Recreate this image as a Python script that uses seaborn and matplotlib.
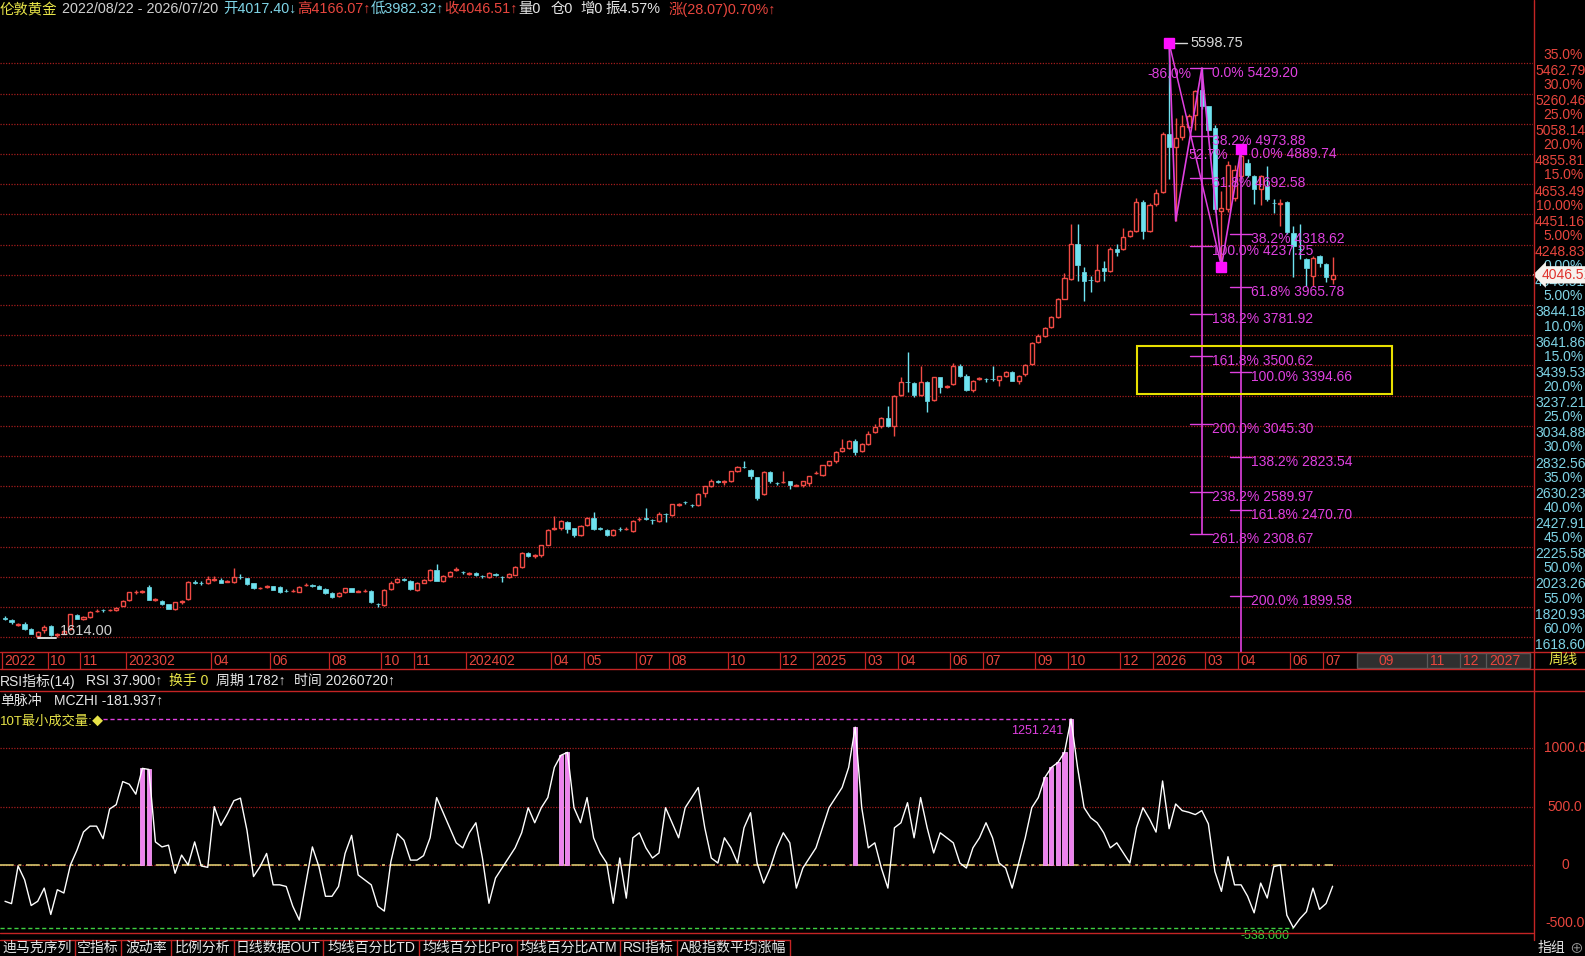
import numpy as np
import pandas as pd
import matplotlib
matplotlib.use("Agg")
import matplotlib.pyplot as plt
import seaborn as sns
from matplotlib.patches import Rectangle
from matplotlib.lines import Line2D

# ---------------------------------------------------------------- data
opens = [1746, 1735, 1705, 1712, 1676, 1631, 1667, 1694, 1636, 1645,
         1672, 1767, 1740, 1758, 1794, 1803, 1800, 1803, 1830, 1871,
         1921, 1924, 1954, 1872, 1864, 1841, 1808, 1855, 1875, 1990,
         1985, 1984, 2005, 2006, 1993, 1988, 2025, 2015, 1981, 1947,
         1958, 1961, 1954, 1932, 1929, 1925, 1968, 1968, 1965, 1943,
         1916, 1893, 1920, 1947, 1925, 1929, 1932, 1844, 1837, 1943,
         1988, 2008, 1996,
         1939, 1984, 2006, 2072, 2000, 2029, 2070, 2058, 2044, 2052,
         2031, 2022, 2045, 2024, 2022, 2038, 2090, 2186, 2166, 2168,
         2240, 2345, 2349, 2394, 2349, 2303, 2371, 2421, 2350, 2337,
         2303, 2345, 2343, 2330, 2409, 2416, 2406, 2398, 2445, 2438,
         2508, 2526, 2508, 2506, 2585, 2630, 2665, 2661, 2663, 2731,
         2760, 2742, 2690, 2578, 2726, 2654, 2658, 2663, 2636, 2637,
         2652, 2718,
         2708, 2770, 2797, 2864, 2887, 2937, 2864, 2915, 2993, 3033,
         3086, 3037, 3242, 3331, 3322, 3242, 3327, 3211, 3360, 3298,
         3316, 3434, 3367, 3278, 3351, 3351, 3351, 3345, 3367, 3398,
         3338, 3382, 3449, 3594, 3639, 3694, 3761, 3888, 4017, 4251,
         4066, 4015, 4006, 4095, 4073, 4222,
         4218, 4307, 4340, 4533, 4340, 4518, 4602, 4991, 4902, 4969,
         5036, 5118, 5285, 5174, 5029, 4474, 4484, 4562, 4707, 4796,
         4707, 4622, 4640, 4530, 4524, 4533, 4329, 4222, 4151, 4040,
         4173, 4118, 4017.40]

closes = [1743, 1722, 1708, 1676, 1645, 1658, 1690, 1638, 1640, 1660,
          1773, 1744, 1758, 1789, 1798, 1800, 1803, 1818, 1864, 1920,
          1925, 1927, 1871, 1876, 1841, 1812, 1853, 1860, 1988, 1985,
          1982, 2011, 2010, 1984, 1996, 2022, 2021, 1977, 1950, 1950,
          1961, 1938, 1920, 1929, 1932, 1954, 1972, 1965, 1943, 1916,
          1887, 1916, 1947, 1925, 1928, 1932, 1853, 1840, 1936, 1981,
          2011, 2006, 1942,
          1984, 2006, 2072, 2000, 2029, 2060, 2074, 2055, 2047, 2034,
          2028, 2052, 2034, 2021, 2045, 2090, 2186, 2164, 2169, 2236,
          2337, 2349, 2398, 2344, 2303, 2366, 2420, 2344, 2348, 2303,
          2337, 2343, 2346, 2398, 2412, 2414, 2403, 2443, 2442, 2510,
          2512, 2523, 2505, 2578, 2630, 2663, 2662, 2664, 2731, 2758,
          2757, 2697, 2555, 2724, 2663, 2651, 2661, 2637, 2639, 2663,
          2697, 2722,
          2770, 2797, 2859, 2887, 2937, 2859, 2915, 2982, 3026, 3086,
          3037, 3238, 3327, 3326, 3242, 3327, 3204, 3360, 3293, 3302,
          3438, 3371, 3278, 3338, 3355, 3347, 3347, 3367, 3398, 3338,
          3371, 3444, 3590, 3639, 3688, 3761, 3888, 4022, 4251, 4111,
          4006, 4012, 4079, 4073, 4222, 4200,
          4302, 4340, 4533, 4340, 4511, 4596, 4991, 4902, 4962, 5045,
          5111, 5274, 5174, 5018, 4484, 4496, 4785, 4747, 4840, 4718,
          4618, 4707, 4551, 4526, 4528, 4333, 4240, 4218, 4095, 4162,
          4129, 4029, 4046.51]

highs = [1760, 1745, 1715, 1720, 1680, 1662, 1700, 1700, 1650, 1670,
         1776, 1775, 1762, 1795, 1806, 1810, 1812, 1822, 1868, 1925,
         1935, 1934, 1972, 1885, 1868, 1845, 1858, 1870, 1995, 2003,
         1998, 2030, 2030, 2015, 2005, 2083, 2045, 2020, 1985, 1958,
         1968, 1965, 1960, 1940, 1940, 1960, 1982, 1978, 1970, 1947,
         1920, 1920, 1952, 1952, 1935, 1942, 1936, 1850, 1940, 1995,
         2020, 2015, 2005,
         1990, 2012, 2076, 2112, 2035, 2065, 2090, 2066, 2058, 2058,
         2038, 2058, 2050, 2030, 2050, 2095, 2190, 2192, 2178, 2240,
         2342, 2430, 2405, 2400, 2352, 2372, 2425, 2456, 2360, 2342,
         2342, 2360, 2356, 2402, 2425, 2488, 2412, 2460, 2455, 2515,
         2522, 2535, 2515, 2584, 2636, 2680, 2675, 2672, 2736, 2764,
         2800, 2748, 2695, 2730, 2735, 2662, 2735, 2668, 2645, 2668,
         2702, 2730,
         2775, 2803, 2865, 2948, 2942, 2945, 2920, 3000, 3045, 3095,
         3171, 3245, 3360, 3527, 3330, 3438, 3335, 3365, 3365, 3310,
         3455, 3450, 3380, 3345, 3362, 3358, 3438, 3372, 3405, 3402,
         3376, 3450, 3595, 3650, 3695, 3770, 3892, 4060, 4385, 4385,
         4100, 4040, 4251, 4140, 4230, 4250,
         4362, 4350, 4560, 4545, 4530, 4620, 5000, 5598.75, 5096, 5118,
         5120, 5285, 5429.20, 5180, 5051, 4607, 4807, 4780, 4889.74, 4820,
         4715, 4718, 4773, 4551, 4551, 4540, 4373, 4384, 4160, 4175,
         4180, 4125, 4166.07]

lows = [1735, 1712, 1698, 1668, 1640, 1614, 1650, 1630, 1625, 1640,
        1668, 1740, 1735, 1750, 1788, 1790, 1795, 1798, 1826, 1866,
        1912, 1915, 1868, 1865, 1836, 1808, 1804, 1845, 1870, 1975,
        1970, 1975, 2000, 1980, 1988, 1980, 2010, 1972, 1945, 1942,
        1952, 1935, 1916, 1920, 1925, 1920, 1962, 1958, 1940, 1912,
        1882, 1888, 1915, 1920, 1920, 1925, 1850, 1820, 1832, 1938,
        1984, 1998, 1935,
        1930, 1980, 2000, 1996, 1990, 2025, 2062, 2046, 2036, 2028,
        2020, 2018, 2030, 1990, 2018, 2034, 2086, 2160, 2150, 2160,
        2236, 2335, 2340, 2318, 2290, 2298, 2366, 2340, 2340, 2296,
        2298, 2330, 2336, 2325, 2396, 2408, 2380, 2392, 2395, 2434,
        2498, 2512, 2490, 2500, 2560, 2626, 2655, 2640, 2658, 2726,
        2750, 2680, 2540, 2572, 2650, 2640, 2650, 2615, 2630, 2625,
        2630, 2712,
        2700, 2765, 2790, 2858, 2880, 2837, 2858, 2905, 2985, 3020,
        3030, 2966, 3235, 3264, 3230, 3236, 3126, 3205, 3255, 3290,
        3310, 3360, 3270, 3262, 3340, 3330, 3335, 3300, 3360, 3335,
        3318, 3370, 3440, 3588, 3630, 3688, 3755, 3882, 4010, 4006,
        3872, 3932, 4000, 4006, 4065, 4170,
        4210, 4300, 4330, 4284, 4330, 4510, 4595, 4685, 4407, 4951,
        5028, 5018, 5160, 5010, 4470, 4102, 4470, 4540, 4690, 4700,
        4518, 4511, 4540, 4462, 4373, 4320, 4029, 4151, 3973, 3969,
        4100, 4000, 3982.32]

mczhi = [-311, -331, -8, -127, -347, -311, -198, -424, -212, -240,
         0, 127, 283, 333, 333, 226, 480, 517, 715, 692,
         607, 828, 819, 198, 155, 170, -71, 85, 0, 198,
         -8, -20, 500, 339, 438, 551, 573, 297, -99, -14,
         99, -170, -170, -184, -353, -472, -155, 155, -14, -268,
         -268, -184, 99, 254, -85, -127, -170, -353, -395, 28,
         268, 212, 42, 42, 80, 233, 578, 448, 319, 190,
         147, 276, 362, 60, -328, -112, -26, 60, 147, 276,
         491, 362, 491, 578, 836, 940, 965, 491, 362, 578,
         233, 103, 17, -328, 60, -284, 233, 276, 147, 60,
         103, 491, 362, 233, 491, 578, 664, 319, 60, 17,
         233, 147, 17, 319, 448, 17, -155, -26, 147, 276,
         190, -198, -26, 60, 147, 319, 491, 578, 664, 836,
         1181, 491, 147, 190, -26, -198, 319, 362, 534, 233,
         578, 319, 103, 276, 233, 190, 17, -26, 147, 233,
         362, 233, 17, -26, -198, 17, 233, 491, 578, 750,
         836, 879, 965, 1251.241, 836, 491, 405, 362, 276, 147,
         190, 103, 17, 319, 491, 395, 282, 720, 311, 523,
         466, 452, 432, 466, 353, -56, -226, 71, -170, -170,
         -268, -410, -155, -283, -14, 0, -430, -538, -460, -400,
         -198, -380, -330, -181.937]

pulse_weeks = [21, 22, 85, 86, 130, 159, 160, 161, 162, 163]

axis_prices = [5462.79, 5260.46, 5058.14, 4855.81, 4653.49, 4451.16, 4248.83,
               4046.51, 3844.18, 3641.86, 3439.53, 3237.21, 3034.88, 2832.56,
               2630.23, 2427.91, 2225.58, 2023.26, 1820.93, 1618.60]
axis_pcts = ["35.0%", "30.0%", "25.0%", "20.0%", "15.0%", "10.00%", "5.00%",
             "0.00%", "5.00%", "10.0%", "15.0%", "20.0%", "25.0%", "30.0%",
             "35.0%", "40.0%", "45.0%", "50.0%", "55.0%", "60.0%"]

month_start = [0, 7, 12, 19, 32, 41, 50, 58, 63, 71, 84, 89, 97, 102, 111, 119,
               124, 132, 137, 145, 150, 158, 163, 171, 176, 184, 189, 197, 202]
month_labels = ["2022", "10", "11", "202302", "04", "06", "08", "10", "11",
                "202402", "04", "05", "07", "08", "10", "12", "2025", "03", "04",
                "06", "07", "09", "10", "12", "2026", "03", "04", "06", "07"]
future_start = [210, 218, 223, 227]
future_labels = ["09", "11", "12", "2027"]

fib1_pct = ["0.0%", "38.2%", "61.8%", "100.0%", "138.2%", "161.8%", "200.0%", "238.2%", "261.8%"]
fib1_val = [5429.20, 4973.88, 4692.58, 4237.25, 3781.92, 3500.62, 3045.30, 2589.97, 2308.67]
fib2_pct = ["0.0%", "38.2%", "61.8%", "100.0%", "138.2%", "161.8%", "200.0%"]
fib2_val = [4889.74, 4318.62, 3965.78, 3394.66, 2823.54, 2470.70, 1899.58]
zig_weeks = [178, 179, 183, 186, 189]
box_weeks = [173.1, 212.1]
box_prices = [3248.0, 3573.0]

header_texts = ["伦敦黄金", "2022/08/22 - 2026/07/20", "开4017.40↓", "高4166.07↑",
                "低3982.32↑", "收4046.51↑", "量0", "仓0", "增0", "振4.57%", "涨(28.07)0.70%↑"]

tabs = ["迪马克序列", "空指标", "波动率", "比例分析", "日线数据OUT", "均线百分比TD",
        "均线百分比Pro", "均线百分比ATM", "RSI指标", "A股指数平均涨幅"]

# ---------------------------------------------------------------- style
sns.set_theme(style="dark")
plt.rcParams['font.family'] = ['Liberation Sans', 'Noto Sans CJK SC', 'DejaVu Sans']
plt.rcParams['axes.unicode_minus'] = False

RED = '#f04a44'
CYAN = '#6fe3f0'
GRID = '#a41d1d'
AXRED = '#c42424'
LRED = '#e8463e'
LCYAN = '#7fd4e6'
MAG = '#e040e0'
YEL = '#e8e448'
WHITE = '#e6e6e6'

W, H = 1585, 956
fig = plt.figure(figsize=(W / 100, H / 100), dpi=100)
fig.patch.set_facecolor('black')


def rect(x0, y0, x1, y1):
    return [x0 / W, 1 - y1 / H, (x1 - x0) / W, (y1 - y0) / H]


SP, X0 = 6.54, 5.0


def wk(px):
    return (px - X0) / SP


XLIM = (wk(0), wk(1533))
PPX = 202.33 / 30.22


def price_at(py):
    return 5462.79 - (py - 63.3) * PPX


def pt(px):
    return px * 0.72


def hline_fig(y, x0=0, x1=W, **kw):
    fig.add_artist(Line2D([x0 / W, x1 / W], [1 - y / H, 1 - y / H], transform=fig.transFigure, **kw))


def vline_fig(x, y0, y1, **kw):
    fig.add_artist(Line2D([x / W, x / W], [1 - y0 / H, 1 - y1 / H], transform=fig.transFigure, **kw))


# ---------------------------------------------------------------- main price panel
ax = fig.add_axes(rect(0, 18, 1533, 652))
ax.set_xlim(*XLIM)
ax.set_ylim(price_at(652), price_at(18))
ax.set_axis_off()

for p in axis_prices:
    ax.axhline(p, color=GRID, lw=0.9, ls=(0, (1, 1.2)), zorder=0)

o, h, l, c = map(np.asarray, (opens, highs, lows, closes))
n = len(c)
xi = np.arange(n)
up = c >= o
top = np.maximum(o, c)
bot = np.minimum(o, c)
cols = np.where(up, RED, CYAN)
ax.vlines(xi, top, h, colors=cols, lw=1.0, zorder=2)
ax.vlines(xi, l, bot, colors=cols, lw=1.0, zorder=2)
hgt = np.maximum(top - bot, 3.0)
ax.bar(xi[up], hgt[up], bottom=bot[up], width=0.62, facecolor='black', edgecolor=RED, lw=1.0, zorder=3)
ax.bar(xi[~up], hgt[~up], bottom=bot[~up], width=0.66, facecolor=CYAN, edgecolor=CYAN, lw=0.5, zorder=3)

# right axis labels
last = c[-1]
for k, p in enumerate(axis_prices):
    col = LRED if p > last + 1 else LCYAN
    ax.annotate(f"{p:.2f}", xy=(1, p), xycoords=('axes fraction', 'data'),
                xytext=(pt(2), pt(-7.4)), textcoords='offset points', ha='left', va='center',
                color=col, fontsize=10, annotation_clip=False)
    ax.annotate(axis_pcts[k], xy=(1, p), xycoords=('axes fraction', 'data'),
                xytext=(pt(50), pt(8.7)), textcoords='offset points', ha='right', va='center',
                color=col, fontsize=10, annotation_clip=False)
ax.annotate(f"{last:.2f}", xy=(1, last), xycoords=('axes fraction', 'data'),
            xytext=(pt(9), 0), textcoords='offset points', ha='left', va='center',
            color='#e0302a', fontsize=10, annotation_clip=False, zorder=10,
            bbox=dict(boxstyle='larrow,pad=0.12', fc='#f6f2ee', ec='none'))

# low / high labels
imin = int(np.argmin(l))
ax.plot([imin, imin + 2.8], [l[imin], l[imin]], color='#d8d8d8', lw=1.4, zorder=4)
ax.annotate(f"{l[imin]:.2f}", xy=(imin, l[imin]), xytext=(pt(22), pt(7)), textcoords='offset points',
            ha='left', va='center', color='#d0d0d0', fontsize=10.5, zorder=5)
imax = int(np.argmax(h))
ax.plot([imax, imax + 2.7], [h[imax], h[imax]], color='#d8d8d8', lw=1.0, zorder=4)
ax.annotate(f"{h[imax]:.2f}", xy=(imax, h[imax]), xytext=(pt(21), 0), textcoords='offset points',
            ha='left', va='center', color='#d8d8d8', fontsize=10.5, zorder=5)

# zigzag drawing
zx = zig_weeks
zy = [h[zx[0]], l[zx[1]], h[zx[2]], l[zx[3]], h[zx[4]]]
ax.plot(zx, zy, color=MAG, lw=1.2, zorder=6)
ax.plot([zx[0], zx[3]], [zy[0], zy[3]], color=MAG, lw=1.1, zorder=6)
ax.plot([zx[0], zx[3], zx[4]], [zy[0], zy[3], zy[4]], ls='none', marker='s', ms=7.5,
        color='#ff10ff', zorder=7)
ax.text(zx[0] - 3.3, price_at(74), "-86.0%", color=MAG, fontsize=10, ha='left', va='center', zorder=8)
ax.text(zx[1] + 2.0, price_at(155), "52.7%", color=MAG, fontsize=10, ha='left', va='center', zorder=8)

# fibonacci set 1 (vertical at P2)
fx1 = zx[2]
ax.plot([fx1, fx1], [fib1_val[0], fib1_val[-1]], color=MAG, lw=1.2, zorder=6)
for pc, v in zip(fib1_pct, fib1_val):
    ax.plot([fx1 - 1.75, fx1 + 1.6], [v, v], color=MAG, lw=1.0, zorder=6)
    ax.annotate(f"{pc} {v:.2f}", xy=(fx1 + 1.55, v), xytext=(0, pt(-5)), textcoords='offset points',
                ha='left', va='center', color=MAG, fontsize=10, zorder=8)
# fibonacci set 2 (vertical at P4)
fx2 = zx[4]
ax.plot([fx2, fx2], [fib2_val[0], price_at(652)], color=MAG, lw=1.2, zorder=6)
for pc, v in zip(fib2_pct[1:], fib2_val[1:]):
    ax.plot([fx2 - 1.7, fx2 + 1.45], [v, v], color=MAG, lw=1.0, zorder=6)
for pc, v in zip(fib2_pct, fib2_val):
    ax.annotate(f"{pc} {v:.2f}", xy=(fx2 + 1.5, v), xytext=(0, pt(-5)), textcoords='offset points',
                ha='left', va='center', color=MAG, fontsize=10, zorder=8)

ax.add_patch(Rectangle((box_weeks[0], box_prices[0]), box_weeks[1] - box_weeks[0],
                       box_prices[1] - box_prices[0], fill=False, ec='#e8e000', lw=1.5, zorder=6))

# ---------------------------------------------------------------- x band
axb = fig.add_axes(rect(0, 652, 1533, 669))
axb.set_xlim(*XLIM)
axb.set_ylim(0, 1)
axb.set_axis_off()
axb.add_patch(Rectangle((wk(1357), 0.06), XLIM[1] - wk(1357) - 0.4, 0.88, fc='#2f2f2f', ec='#5a5a5a', lw=1.0))
for s, lab in zip(month_start, month_labels):
    axb.vlines(s - 0.5, 0, 1, color=AXRED, lw=0.9)
    axb.annotate(lab, xy=(s - 0.5, 0.45), xytext=(pt(2.5), 0), textcoords='offset points',
                 ha='left', va='center', color=LRED, fontsize=10)
for s, lab in zip(future_start, future_labels):
    if lab != "09":
        axb.vlines(s - 0.5, 0.06, 0.94, color='#5a5a5a', lw=0.9)
    axb.annotate(lab, xy=(s - 0.5, 0.45), xytext=(pt(3), 0), textcoords='offset points',
                 ha='left', va='center', color=LRED, fontsize=10)
hline_fig(652, color=AXRED, lw=1.0)
hline_fig(669, color=AXRED, lw=1.0)
fig.text(1563 / W, 1 - 660 / H, "周线", color=YEL, fontsize=10.5, ha='center', va='center')

# ---------------------------------------------------------------- text rows
renderer = fig.canvas.get_renderer()


def chain(pieces, x0, y, fs=10):
    x = x0
    for s, col, gap in pieces:
        t = fig.text(x / W, 1 - y / H, s, color=col, fontsize=fs, ha='left', va='center')
        bb = t.get_window_extent(renderer=renderer)
        x = bb.x1 + gap
    return x


header_col = [YEL, '#d0d0d0', LCYAN, LRED, LCYAN, LRED, WHITE, WHITE, WHITE, WHITE, LRED]
header_gap = [5, 5, 0, 0, 0, 1, 10, 7, 3, 8, 0]
chain(list(zip(header_texts, header_col, header_gap)), 0, 9, fs=10.4)

chain([("RSI指标(14)", WHITE, 10), ("RSI 37.900↑", WHITE, 7), ("换手 0", YEL, 8),
       ("周期 1782↑", WHITE, 8), ("时间 20260720↑", WHITE, 0)], 0, 681)
hline_fig(691, color=AXRED, lw=1.0)
chain([("单脉冲", WHITE, 12), ("MCZHI -181.937↑", WHITE, 0)], 0, 701)
chain([("10T最小成交量:", YEL, 6)], 0, 722, fs=9.5)
fig.text(97 / W, 1 - 721 / H, "◆", color=YEL, fontsize=8, ha='center', va='center')

# ---------------------------------------------------------------- indicator panel
ax2 = fig.add_axes(rect(0, 691, 1533, 933))
ax2.set_xlim(*XLIM)
VPX = 0.1167
ax2.set_ylim(-(933 - 865) / VPX, (865 - 691) / VPX)
ax2.set_axis_off()
for v in (1000, 500, 0):
    ax2.axhline(v, color=GRID, lw=0.9, ls=(0, (1, 1.2)), zorder=0)
m = np.asarray(mczhi)
ax2.plot([XLIM[0], n - 1], [0, 0], color='#e8d878', lw=1.1, ls=(0, (9, 3, 2, 3)), zorder=1)
pw = np.asarray(pulse_weeks)
ax2.bar(pw, m[pw], width=0.62, color='#ee82ee', edgecolor='#f4a0f4', lw=0.6, zorder=2)
df = pd.DataFrame({"week": xi, "MCZHI": m})
sns.lineplot(data=df, x="week", y="MCZHI", ax=ax2, color='white', lw=1.0, zorder=3, legend=False)
ax2.set_axis_off()
imx = int(np.argmax(m))
imn = int(np.argmin(m))
ax2.plot([wk(103), imx], [m[imx], m[imx]], color=MAG, lw=1.0, ls=(0, (3, 2)), zorder=1)
ax2.annotate(f"{m[imx]:.3f}", xy=(imx, m[imx]), xytext=(pt(-8), pt(-12)), textcoords='offset points',
             ha='right', va='center', color=MAG, fontsize=9)
ax2.plot([XLIM[0], imn], [m[imn], m[imn]], color='#3ed040', lw=1.0, ls=(0, (3, 2)), zorder=1)
ax2.annotate(f"{m[imn]:.3f}", xy=(imn, m[imn]), xytext=(pt(-4), pt(-8)), textcoords='offset points',
             ha='right', va='center', color='#3ed040', fontsize=9, annotation_clip=False)
for v, s in ((1000, "1000.0"), (500, "500.0"), (0, "0"), (-500, "-500.0")):
    ax2.annotate(s, xy=(1, v), xycoords=('axes fraction', 'data'), xytext=(pt(32), 0),
                 textcoords='offset points', ha='center', va='center', color=LRED, fontsize=10,
                 annotation_clip=False)
hline_fig(933, x0=0, x1=1533, color=AXRED, lw=1.0)

# ---------------------------------------------------------------- right axis line + toolbar
vline_fig(1533.5, 0, 940, color=AXRED, lw=1.0)
seps = [0, 75, 121, 171, 234, 323, 419, 517, 620, 677, 790]
hline_fig(940, x0=0, x1=790, color=AXRED, lw=1.0)
for s in seps[1:]:
    vline_fig(s, 940, 956, color=AXRED, lw=1.0)
for a, b, t in zip(seps[:-1], seps[1:], tabs):
    fig.text((a + b) / 2 / W, 1 - 948 / H, t, color=WHITE, fontsize=10, ha='center', va='center')
fig.text(1551 / W, 1 - 948 / H, "指组", color=WHITE, fontsize=10, ha='center', va='center')
fig.text(1576 / W, 1 - 948 / H, "⊕", color='#9a9a9a', fontsize=10, ha='center', va='center')

fig.savefig("out.png", dpi=100, facecolor='black')
